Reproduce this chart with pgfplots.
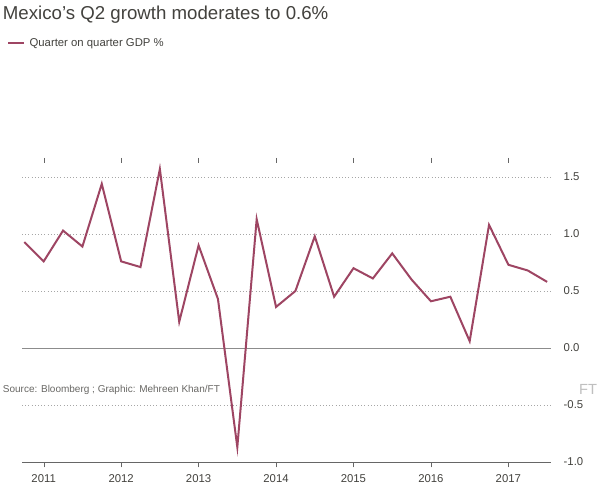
\documentclass[border=0pt]{standalone}
\usepackage{pgfplots}
\pgfplotsset{compat=1.18}
\usepackage{fontspec}
\setmainfont{Liberation Sans}
\definecolor{line}{HTML}{9E4563}
\definecolor{txt}{HTML}{43423E}
\begin{document}
\begin{tikzpicture}[x=1pt,y=1pt]
\fill[white] (0,0) rectangle (450,300);
\node[anchor=west,inner sep=0,font=\fontsize{14}{16}\selectfont,text=txt] at (2,289) {Mexico's Q2 growth moderates to 0.6\%};
\draw[line,line width=1.6pt] (6,267.5) -- (18,267.5);
\node[anchor=west,inner sep=0,font=\fontsize{8.5}{10}\selectfont,text=txt] at (22,267.5) {Quarter on quarter GDP \%};
\node[anchor=west,inner sep=0,font=\fontsize{7.5}{9}\selectfont,text=txt!80] at (2,7.5) {Source: Bloomberg ; Graphic: Mehreen Khan/FT};
\node[anchor=east,inner sep=0,font=\fontsize{11}{12}\selectfont\rmfamily,text=black!25] at (448,8) {FT};
\begin{axis}[at={(16.5pt,39pt)},anchor=origin, scale only axis,width=396.75pt,height=224pt,
 xmin=2010.72,xmax=2017.55,ymin=-1.0,ymax=1.62,
 axis line style={draw=none}, axis y line*=right,
 ytick={-1,-0.5,0,0.5,1,1.5},
 yticklabel style={/pgf/number format/fixed,/pgf/number format/fixed zerofill,/pgf/number format/precision=1,xshift=2pt},
 /pgf/number format/assume math mode=true,
 ticklabel style={font=\fontsize{8.5}{10}\selectfont,text=txt},
 xtick={2010,...,2017}, xticklabel style={/pgf/number format/1000 sep={},yshift=-2pt},
 ymajorgrids, grid style={black!35,dotted,line width=0.6pt},
 major y tick style={draw=none},
 major x tick style={black!60}, tick align=outside, major tick length=4pt,
 clip=false]
\draw[black!45,line width=0.5pt] (axis cs:2010.72,0) -- (axis cs:2017.55,0);
\draw[black!60] (axis cs:2010.72,-1) -- (axis cs:2017.55,-1);
\addplot[line,line width=1.5pt,mark=none] coordinates {
(2010.75,0.93)(2011.0,0.76)(2011.25,1.03)(2011.5,0.89)(2011.75,1.44)
(2012.0,0.76)(2012.25,0.71)(2012.5,1.57)(2012.75,0.23)
(2013.0,0.90)(2013.25,0.43)(2013.5,-0.87)(2013.75,1.13)
(2014.0,0.36)(2014.25,0.50)(2014.5,0.98)(2014.75,0.45)
(2015.0,0.70)(2015.25,0.61)(2015.5,0.83)(2015.75,0.60)
(2016.0,0.41)(2016.25,0.45)(2016.5,0.06)(2016.75,1.08)
(2017.0,0.73)(2017.25,0.68)(2017.5,0.58)};
\end{axis}
\end{tikzpicture}
\end{document}
